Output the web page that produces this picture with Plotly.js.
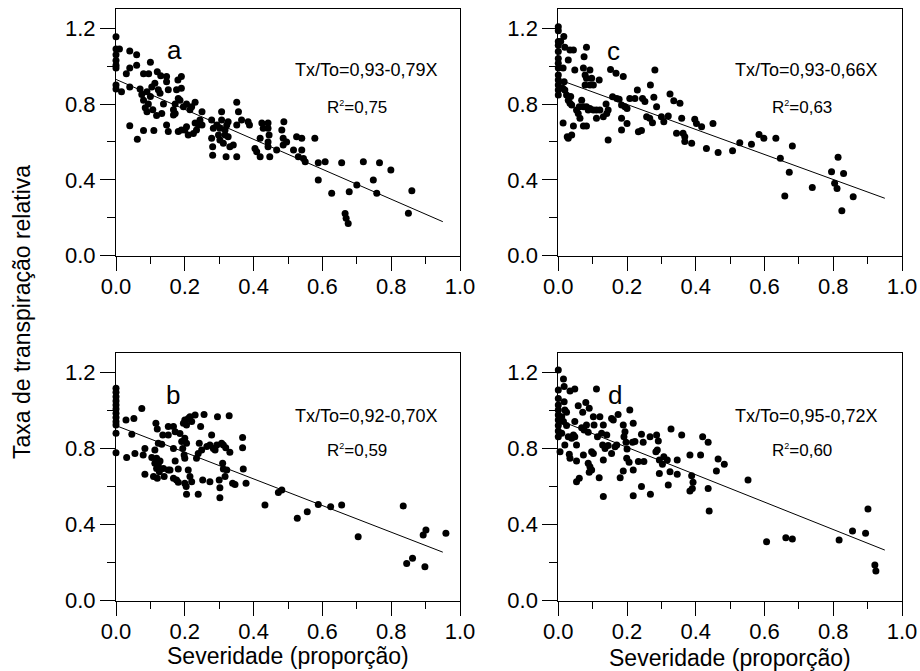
<!DOCTYPE html>
<html>
<head>
<meta charset="utf-8">
<script src="https://cdn.plot.ly/plotly-3.0.1.min.js"></script>
<style>html,body{margin:0;padding:0;background:#fff;}#chart{width:920px;height:671px;}</style>
</head>
<body>
<div id="chart"></div>
<script>
// Panel a
const xA = [0,0,0.01,0,0,0,0,0,0,0.016,
0.04,0.06,0.04,0.06,0.03,0.04,0.04,0.062,0.1,0.08,
0.095,0.07,0.075,0.08,0.09,0.094,0.085,0.1,0.09,0.08,
0.11,0.12,0.13,0.113,0.123,0.104,0.107,0.118,0.128,0.147,
0.147,0.152,0.147,0.152,0.133,0.138,0.167,0.172,0.172,0.176,
0.18,0.19,0.19,0.181,0.167,0.186,0.181,0.19,0.196,0.205,
0.215,0.22,0.23,0.205,0.2,0.21,0.225,0.234,0.23,0.24,
0.25,0.244,0.25,0.278,0.283,0.278,0.281,0.281,0.293,0.302,
0.307,0.307,0.298,0.302,0.312,0.317,0.322,0.326,0.317,0.326,
0.32,0.331,0.351,0.356,0.351,0.351,0.341,0.365,0.384,0.388,
0.404,0.409,0.419,0.419,0.424,0.428,0.442,0.442,0.442,0.442,
0.447,0.445,0.467,0.482,0.488,0.486,0.486,0.496,0.516,0.525,
0.54,0.53,0.54,0.545,0.55,0.578,0.588,0.608,0.588,0.627,
0.656,0.666,0.669,0.675,0.678,0.7,0.719,0.748,0.758,0.766,
0.799,0.86,0.85];
const yA = [1.155,1.09,1.09,1.06,1.03,1.005,0.99,0.9,0.88,0.865,
1.08,1.06,0.99,1.005,0.96,0.89,0.685,0.614,1.02,0.96,
0.96,0.88,0.85,0.82,0.865,0.8,0.78,0.84,0.76,0.66,
0.66,0.97,0.95,0.91,0.875,0.89,0.77,0.74,0.857,0.945,
0.918,0.875,0.69,0.655,0.75,0.8,0.77,0.8,0.75,0.875,
0.927,0.945,0.884,0.83,0.742,0.82,0.655,0.663,0.786,0.8,
0.77,0.786,0.81,0.68,0.663,0.637,0.645,0.663,0.7,0.69,
0.76,0.716,0.69,0.716,0.672,0.62,0.575,0.53,0.69,0.672,
0.716,0.76,0.637,0.61,0.593,0.663,0.69,0.707,0.637,0.628,
0.522,0.575,0.81,0.76,0.69,0.522,0.584,0.716,0.707,0.69,
0.566,0.549,0.62,0.522,0.7,0.672,0.7,0.672,0.6,0.575,
0.522,0.637,0.558,0.663,0.707,0.62,0.584,0.6,0.558,0.628,
0.62,0.522,0.558,0.513,0.496,0.62,0.49,0.496,0.4,0.329,
0.49,0.223,0.197,0.17,0.338,0.373,0.496,0.4,0.329,0.49,
0.452,0.343,0.224];

// Panel c
const xC = [0,0,0,0,0,0,0,0,0,0,
0,0,0,0.007,0.016,0.019,0.014,0.017,0.013,0.019,
0.029,0.034,0.044,0.048,0.024,0.029,0.036,0.034,0.039,0.014,
0.026,0.029,0.039,0.044,0.053,0.058,0.061,0.063,0.068,0.073,
0.073,0.082,0.073,0.075,0.082,0.078,0.082,0.092,0.078,0.092,
0.102,0.097,0.119,0.082,0.087,0.092,0.102,0.111,0.121,0.131,
0.111,0.141,0.145,0.139,0.145,0.152,0.168,0.189,0.158,0.17,
0.177,0.184,0.194,0.2,0.208,0.223,0.23,0.184,0.2,0.184,
0.233,0.242,0.245,0.252,0.257,0.266,0.274,0.268,0.281,0.278,
0.286,0.3,0.307,0.32,0.325,0.336,0.354,0.359,0.344,0.363,
0.368,0.368,0.388,0.397,0.402,0.417,0.431,0.45,0.465,0.507,
0.528,0.562,0.584,0.598,0.633,0.646,0.659,0.672,0.681,0.739,
0.795,0.814,0.804,0.811,0.83,0.825,0.858];
const yC = [1.208,1.187,1.13,1.11,1.077,1.04,1.015,0.99,0.953,0.927,
0.9,0.874,0.848,1.13,1.156,1.1,0.99,0.918,0.883,0.874,
1.033,1.085,1.085,0.98,0.848,0.82,0.84,0.804,0.795,0.7,
0.628,0.62,0.637,0.684,0.769,0.75,0.786,0.725,0.82,0.786,
0.684,0.684,0.99,1.05,1.1,0.953,0.936,0.98,0.9,0.9,
0.9,0.936,0.927,0.786,0.769,0.777,0.769,0.769,0.769,0.733,
0.725,0.75,0.769,0.8,0.61,0.983,0.962,0.945,0.839,0.83,
0.825,0.795,0.786,0.777,0.83,0.83,0.874,0.725,0.698,0.663,
0.654,0.66,0.83,0.813,0.733,0.725,0.702,0.9,0.98,0.836,
0.786,0.733,0.707,0.737,0.853,0.818,0.804,0.725,0.646,0.646,
0.628,0.602,0.593,0.72,0.698,0.68,0.566,0.698,0.544,0.554,
0.596,0.588,0.64,0.62,0.62,0.514,0.315,0.44,0.579,0.36,
0.443,0.519,0.382,0.355,0.434,0.237,0.311];

// Panel b
const xB = [0,0,0,0,0,0,0,0,0,0,
0,0,0.029,0.052,0.075,0.046,0.031,0.055,0.079,0.084,
0.084,0.104,0.109,0.116,0.12,0.113,0.123,0.118,0.113,0.118,
0.123,0.126,0.128,0.12,0.133,0.138,0.14,0.136,0.152,0.152,
0.167,0.172,0.167,0.152,0.157,0.172,0.167,0.176,0.181,0.181,
0.186,0.191,0.194,0.196,0.2,0.205,0.21,0.215,0.22,0.23,
0.2,0.205,0.198,0.2,0.2,0.204,0.205,0.21,0.215,0.22,
0.234,0.239,0.242,0.246,0.239,0.249,0.252,0.256,0.264,0.273,
0.278,0.273,0.283,0.288,0.293,0.295,0.3,0.302,0.302,0.307,
0.312,0.31,0.312,0.317,0.322,0.319,0.329,0.331,0.339,0.346,
0.368,0.368,0.37,0.378,0.433,0.472,0.482,0.527,0.556,0.588,
0.624,0.656,0.704,0.835,0.893,0.901,0.959,0.845,0.862,0.898];
const yB = [1.116,1.095,1.072,1.05,1.028,1.007,0.985,0.962,0.94,0.923,
0.88,0.778,0.95,0.958,1.01,0.874,0.752,0.774,0.766,0.8,
0.664,0.752,0.652,0.932,0.902,0.792,0.827,0.748,0.722,0.695,
0.713,0.678,0.734,0.643,0.822,0.695,0.652,0.871,0.915,0.871,
0.915,0.888,0.8,0.687,0.687,0.734,0.643,0.634,0.622,0.692,
0.879,0.836,0.8,0.932,0.95,0.923,0.958,0.967,0.941,0.976,
0.853,0.827,0.766,0.748,0.617,0.6,0.559,0.687,0.652,0.625,
0.748,0.774,0.827,0.915,0.559,0.792,0.634,0.979,0.81,0.818,
0.871,0.625,0.8,0.792,0.818,0.967,0.634,0.594,0.541,0.827,
0.818,0.722,0.692,0.652,0.687,0.804,0.972,0.78,0.617,0.611,
0.857,0.804,0.692,0.617,0.503,0.569,0.582,0.433,0.468,0.506,
0.494,0.503,0.336,0.498,0.345,0.371,0.354,0.196,0.223,0.179];

// Panel d
const xD = [0,0.015,0.017,0,0.034,0.048,0.111,0,0.017,0,
0,0.019,0.024,0,0.01,0,0.015,0,0.024,0,
0.01,0,0.005,0.019,0.029,0.039,0.044,0.048,0.053,0.032,
0.034,0.053,0.048,0.058,0.071,0.08,0.09,0.102,0.121,0.068,
0.075,0.082,0.087,0.104,0.114,0.126,0.131,0.141,0.155,0.16,
0.174,0.073,0.097,0.102,0.087,0.092,0.097,0.09,0.053,0.061,
0.119,0.131,0.131,0.129,0.136,0.145,0.155,0.165,0.17,0.18,
0.189,0.189,0.194,0.191,0.197,0.2,0.199,0.206,0.208,0.218,
0.216,0.223,0.218,0.218,0.233,0.242,0.247,0.249,0.242,0.267,
0.268,0.286,0.284,0.288,0.291,0.294,0.294,0.303,0.307,0.317,
0.32,0.325,0.328,0.346,0.346,0.359,0.383,0.388,0.392,0.39,
0.383,0.414,0.42,0.436,0.436,0.439,0.46,0.465,0.483,0.552,
0.606,0.662,0.681,0.817,0.856,0.894,0.901,0.921,0.924];
const yD = [1.212,1.165,1.125,1.107,1.102,1.112,1.112,1.063,1.046,1.028,
1.002,1.002,0.99,0.976,0.967,0.95,0.941,0.92,0.92,0.892,
0.88,0.862,0.783,0.818,0.862,0.853,0.871,0.862,0.818,0.769,
0.748,0.734,0.941,1.025,0.99,1.042,1.011,0.967,0.967,0.909,
0.897,0.923,0.885,0.923,0.862,0.88,0.923,0.871,0.958,0.95,
0.979,0.766,0.783,0.774,0.722,0.704,0.687,0.675,0.625,0.643,
0.646,0.547,0.739,0.818,0.8,0.815,0.774,0.809,0.818,0.646,
0.682,0.923,0.888,0.862,0.832,0.797,0.748,0.727,1.002,0.932,
0.832,0.836,0.687,0.552,0.731,0.874,0.832,0.731,0.6,0.862,
0.559,0.871,0.783,0.792,0.839,0.739,0.669,0.717,0.757,0.739,
0.608,0.678,0.902,0.739,0.664,0.871,0.766,0.657,0.622,0.59,
0.576,0.766,0.862,0.832,0.59,0.471,0.682,0.745,0.717,0.634,
0.31,0.331,0.324,0.319,0.366,0.354,0.482,0.188,0.156];

// Regression (intercept, slope) and labels, order: a, c, b, d
const panelLetters = ['a','c','b','d'];
const intercepts = [0.93, 0.93, 0.92, 0.95];
const slopes = [0.79, 0.66, 0.70, 0.72];
const equations = ['Tx/To=0,93-0,79X','Tx/To=0,93-0,66X','Tx/To=0,92-0,70X','Tx/To=0,95-0,72X'];
const r2Values = ['0,75','0,63','0,59','0,60'];
const lineX = [0, 0.95];
const xTitle = 'Severidade (proporção)';
const yTitle = 'Taxa de transpiração relativa';

const FONT = 'Liberation Sans, Arial, Helvetica, sans-serif';
const xs = [xA, xC, xB, xD];
const ys = [yA, yC, yB, yD];
const axSuffix = ['', '2', '3', '4'];

const traces = [];
for (let i = 0; i < 4; i++) {
  const xa = 'x' + axSuffix[i], ya = 'y' + axSuffix[i];
  traces.push({type:'scatter', mode:'markers', x: xs[i], y: ys[i], xaxis: xa, yaxis: ya,
    marker:{color:'#000', size:7}, showlegend:false, hoverinfo:'skip', cliponaxis:false});
  traces.push({type:'scatter', mode:'lines', x: lineX, y: lineX.map(v => intercepts[i] - slopes[i]*v),
    xaxis: xa, yaxis: ya, line:{color:'#000', width:1}, showlegend:false, hoverinfo:'skip'});
}

const xDomL = [116/920, 460/920], xDomR = [558.3/920, 902/920];
const yDomT = [1-255.7/671, 1-9.3/671], yDomB = [1-600.7/671, 1-353.3/671];
const doms = [[xDomL, yDomT],[xDomR, yDomT],[xDomL, yDomB],[xDomR, yDomB]];

function xAxis(dom, anchor) {
  return {domain: dom, anchor: anchor, range:[0,1], tick0:0, dtick:0.2, tickformat:'.1f',
    ticks:'outside', ticklen:14, tickwidth:1, tickcolor:'#000', ticklabelstandoff:-3,
    minor:{tick0:0, dtick:0.1, ticks:'outside', ticklen:7, tickwidth:1, tickcolor:'#000'},
    showline:true, mirror:true, linecolor:'#000', linewidth:1, showgrid:false, zeroline:false,
    tickfont:{family:FONT, size:22, color:'#000'}, automargin:false, fixedrange:true};
}
function yAxis(dom, anchor) {
  return {domain: dom, anchor: anchor, range:[0,1.3], tick0:0, dtick:0.4, tickformat:'.1f',
    ticks:'outside', ticklen:15, tickwidth:1, tickcolor:'#000',
    minor:{tick0:0, dtick:0.2, ticks:'outside', ticklen:8, tickwidth:1, tickcolor:'#000'},
    showline:true, mirror:true, linecolor:'#000', linewidth:1, showgrid:false, zeroline:false,
    tickfont:{family:FONT, size:22, color:'#000'}, automargin:false, fixedrange:true};
}

const layout = {
  width:920, height:671, margin:{l:0, r:0, t:0, b:0},
  paper_bgcolor:'#fff', plot_bgcolor:'#fff', showlegend:false,
  font:{family:FONT, color:'#000'},
  annotations: []
};
for (let i = 0; i < 4; i++) {
  const s = axSuffix[i];
  layout['xaxis' + s] = xAxis(doms[i][0], 'y' + s);
  layout['yaxis' + s] = yAxis(doms[i][1], 'x' + s);
}

const letterPos = [[0.171,1.085],[0.162,1.08],[0.166,1.08],[0.165,1.08]];
const eqPos = [[0.942,0.98],[0.937,0.98],[0.942,0.97],[0.937,0.97]];
const r2Pos = [[0.70,0.782],[0.71,0.782],[0.70,0.787],[0.71,0.79]];
for (let i = 0; i < 4; i++) {
  const s = axSuffix[i];
  const xr = 'x' + s, yr = 'y' + s;
  layout.annotations.push({xref:xr, yref:yr, x:letterPos[i][0], y:letterPos[i][1], text:panelLetters[i],
    showarrow:false, xanchor:'center', yanchor:'middle', font:{family:FONT, size:26, color:'#000'}});
  layout.annotations.push({xref:xr, yref:yr, x:eqPos[i][0], y:eqPos[i][1], text:equations[i],
    showarrow:false, xanchor:'right', yanchor:'middle', font:{family:FONT, size:18, color:'#000'}});
  layout.annotations.push({xref:xr, yref:yr, x:r2Pos[i][0], y:r2Pos[i][1],
    text:'R<sup><span style="font-size:9px">2</span></sup>=' + r2Values[i],
    showarrow:false, xanchor:'center', yanchor:'middle', font:{family:FONT, size:17, color:'#000'}});
}
// axis titles
layout.annotations.push({xref:'paper', yref:'paper', x:288/920, y:1-656/671, text:xTitle, showarrow:false,
  xanchor:'center', yanchor:'middle', font:{family:FONT, size:23, color:'#000'}});
layout.annotations.push({xref:'paper', yref:'paper', x:730/920, y:1-658/671, text:xTitle, showarrow:false,
  xanchor:'center', yanchor:'middle', font:{family:FONT, size:23, color:'#000'}});
layout.annotations.push({xref:'paper', yref:'paper', x:22/920, y:1-312/671, text:yTitle, showarrow:false,
  textangle:-90, xanchor:'center', yanchor:'middle', font:{family:FONT, size:23, color:'#000'}});

Plotly.newPlot('chart', traces, layout, {displayModeBar:false, staticPlot:true});
</script>
</body>
</html>
